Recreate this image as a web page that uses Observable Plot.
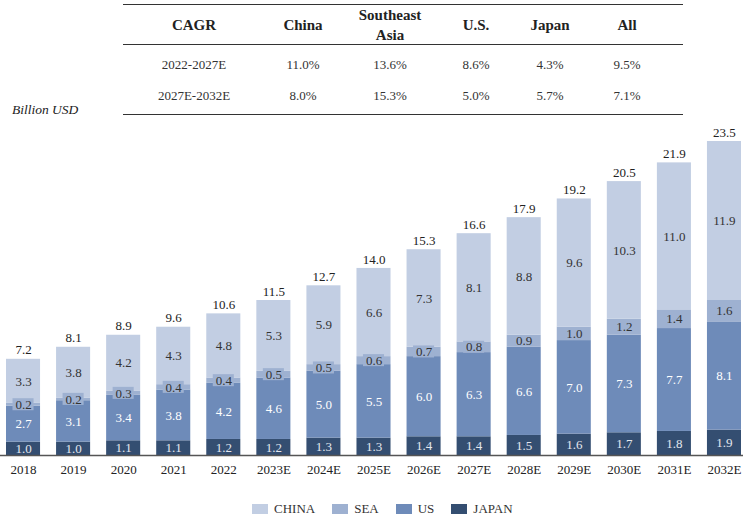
<!DOCTYPE html>
<html><head><meta charset="utf-8">
<script src="https://cdn.jsdelivr.net/npm/d3@7"></script>
<script src="https://cdn.jsdelivr.net/npm/@observablehq/plot@0.6"></script>
<style>
body{margin:0;background:#fff;font-family:"Liberation Serif","Times New Roman",serif;color:#222}
#wrap{position:relative;width:743px;height:519px;overflow:hidden;background:#fff}
.line{position:absolute;left:123px;width:560px;height:0;border-top:1.6px solid #333}
.cell{position:absolute;width:130px;text-align:center;transform:translateY(-50%);line-height:20px;white-space:nowrap}
.hdr{font-weight:bold;font-size:15px;color:#222}
.val{font-size:13px;color:#333}
#unit{position:absolute;left:12px;top:102px;font-style:italic;font-size:13.5px;color:#222}
#chart{position:absolute;left:0;top:120px}
#legend{position:absolute;top:501px;left:252px;display:flex;align-items:center;font-size:13px;color:#333}
#legend .item{display:flex;align-items:center;margin-right:17px}
#legend .sw{width:16px;height:10px;margin-right:6px}
</style>
</head><body>
<div id="wrap">
  <div class="line" style="top:4px"></div>
  <div class="line" style="top:44px"></div>
  <div class="line" style="top:114px"></div>
  <div id="table"></div>
  <div id="unit">Billion USD</div>
  <div id="chart"></div>
  <div id="legend"></div>
</div>
<script>
// ---- data ----
const years = ["2018","2019","2020","2021","2022","2023E","2024E","2025E","2026E","2027E","2028E","2029E","2030E","2031E","2032E"];
const japan = [1.0,1.0,1.1,1.1,1.2,1.2,1.3,1.3,1.4,1.4,1.5,1.6,1.7,1.8,1.9];
const us    = [2.7,3.1,3.4,3.8,4.2,4.6,5.0,5.5,6.0,6.3,6.6,7.0,7.3,7.7,8.1];
const sea   = [0.2,0.2,0.3,0.4,0.4,0.5,0.5,0.6,0.7,0.8,0.9,1.0,1.2,1.4,1.6];
const china = [3.3,3.8,4.2,4.3,4.8,5.3,5.9,6.6,7.3,8.1,8.8,9.6,10.3,11.0,11.9];
const totals = [7.2,8.1,8.9,9.6,10.6,11.5,12.7,14.0,15.3,16.6,17.9,19.2,20.5,21.9,23.5];
const seriesNames = ["CHINA","SEA","US","JAPAN"];
const seriesColors = ["#c2cee3","#9eb1d1","#6e8bb9","#344e71"];

const cagrHeaders = ["CAGR","China","Southeast<br>Asia","U.S.","Japan","All"];
const cagrPeriods = ["2022-2027E","2027E-2032E"];
const cagr2227 = ["11.0%","13.6%","8.6%","4.3%","9.5%"];
const cagr2732 = ["8.0%","15.3%","5.0%","5.7%","7.1%"];

// ---- table ----
const colX = [194,303,390,476,550,627];
const tbl = document.getElementById("table");
function cell(html, cx, cy, cls){
  const d = document.createElement("div");
  d.className = "cell " + cls;
  d.style.left = (cx - 65) + "px";
  d.style.top = cy + "px";
  d.innerHTML = html;
  tbl.appendChild(d);
}
cagrHeaders.forEach((h,i)=>cell(h, colX[i], 25, "hdr"));
[cagr2227, cagr2732].forEach((row, r)=>{
  const cy = r === 0 ? 65 : 96;
  cell(cagrPeriods[r], colX[0], cy, "val");
  row.forEach((v,i)=>cell(v, colX[i+1], cy, "val"));
});

// ---- stacked rows ----
const rows = [];
years.forEach((y,i)=>{
  let base = 0;
  [["JAPAN",japan[i]],["US",us[i]],["SEA",sea[i]],["CHINA",china[i]]].forEach(([s,v])=>{
    rows.push({year:y, series:s, value:v, y1:base, y2:base+v, mid:base+v/2});
    base += v;
  });
});
const tops = years.map((y,i)=>({year:y, top: japan[i]+us[i]+sea[i]+china[i], label: totals[i].toFixed(1)}));

const chart = Plot.plot({
  width: 743, height: 360,
  marginLeft: 0, marginRight: 0, marginTop: 21, marginBottom: 25,
  style: {fontFamily: '"Liberation Serif","Times New Roman",serif', fontSize: "13px", background: "transparent", color:"#222"},
  x: {domain: years, range: [6, 741], paddingInner: 0.32, paddingOuter: 0, round: false},
  y: {domain: [0, 23.5], axis: null},
  color: {domain: seriesNames, range: seriesColors},
  marks: [
    Plot.barY(rows, {x: "year", y1: "y1", y2: "y2", fill: "series"}),
    Plot.barY(rows.filter(d => d.series === "SEA" && d.value < 0.9),
      {x: "year", y1: d => d.mid - 0.45, y2: d => d.mid + 0.45, fill: "#9eb1d1", insetLeft: 6.5, insetRight: 6.5}),
    Plot.text(rows.filter(d => d.series === "JAPAN"), {x: "year", y: "mid", text: d => d.value.toFixed(1), fill: "#e4e8ef", fontSize: 13}),
    Plot.text(rows.filter(d => d.series === "US"), {x: "year", y: "mid", text: d => d.value.toFixed(1), fill: "#ffffff", fontSize: 13}),
    Plot.text(rows.filter(d => d.series === "SEA" || d.series === "CHINA"), {x: "year", y: "mid", text: d => d.value.toFixed(1), fill: "#333", fontSize: 13}),
    Plot.text(tops, {x: "year", y: "top", text: "label", dy: -9, fill: "#222", fontSize: 13}),
    Plot.ruleY([0], {stroke: "#555", strokeWidth: 1.5}),
    Plot.axisX({tickSize: 0, tickPadding: 9, label: null, fill: "#222", fontSize: 13})
  ]
});
document.getElementById("chart").appendChild(chart);

// ---- legend ----
const lg = document.getElementById("legend");
seriesNames.forEach((s,i)=>{
  const it = document.createElement("div");
  it.className = "item";
  it.innerHTML = `<span class="sw" style="background:${seriesColors[i]}"></span><span>${s}</span>`;
  lg.appendChild(it);
});
</script>
</body></html>
